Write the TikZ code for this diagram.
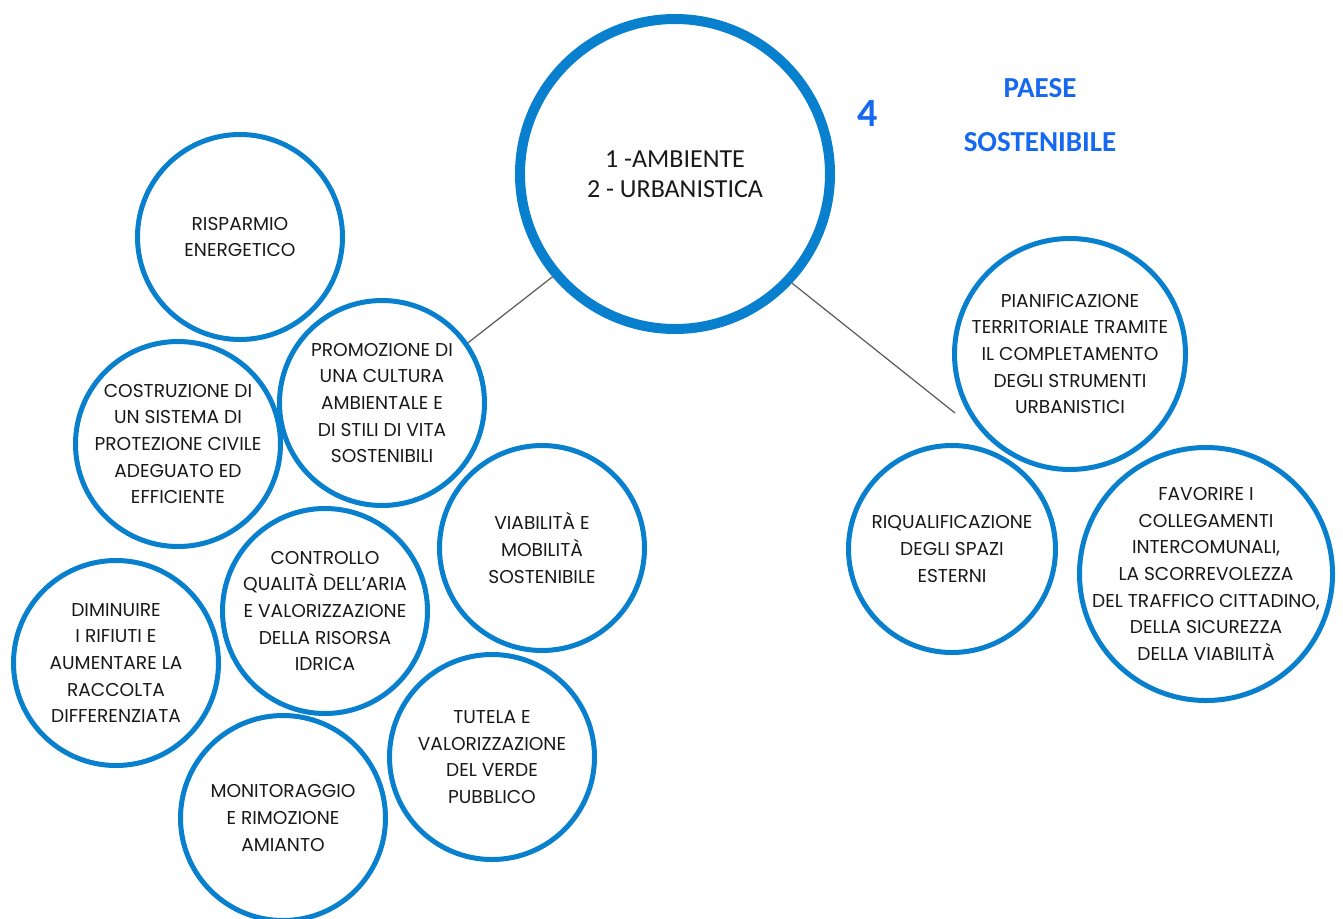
\documentclass[tikz,border=0pt]{standalone}
\usepackage{fontspec}
\setmainfont{Poppins}
\newfontfamily\calib{Carlito}
\definecolor{ringblue}{RGB}{8,128,206}
\definecolor{titleblue}{RGB}{22,104,240}
\definecolor{linkgray}{RGB}{90,90,90}
\definecolor{txt}{RGB}{25,25,25}
\begin{document}
\begin{tikzpicture}[x=1pt,y=-1pt,
  topic/.style={circle,draw=ringblue,line width=5pt,inner sep=-40pt,minimum size=205pt,
    align=center,text=txt,font=\fontsize{18.6}{26.6}\selectfont},
  hub/.style={circle,draw=ringblue,line width=10pt,inner sep=0pt,minimum size=310pt,
    align=center,text=txt,font=\calib\fontsize{26}{30}\selectfont},
  link/.style={draw=linkgray,line width=1.2pt},
  heading/.style={text=titleblue,font=\calib\bfseries\fontsize{29}{32}\selectfont}]
\useasboundingbox (0,0) rectangle (1343,918);
\fill[white] (0,0) rectangle (1343,918);
\node[hub] (main) at (675,174) {1 -AMBIENTE\\2 - URBANISTICA};
\node[heading,font=\calib\bfseries\fontsize{40}{42}\selectfont] (four) at (868,114) {4};
\node[heading] (paese) at (1040,88) {PAESE};
\node[heading] (sost) at (1040,142) {SOSTENIBILE};
\node[topic] (ris) at (240,237) {RISPARMIO\\ENERGETICO};
\node[topic] (prom) at (382,403) {PROMOZIONE DI\\UNA CULTURA\\AMBIENTALE E\\DI STILI DI VITA\\SOSTENIBILI};
\node[topic] (cost) at (178,444) {COSTRUZIONE DI\\UN SISTEMA DI\\PROTEZIONE CIVILE\\ADEGUATO ED\\EFFICIENTE};
\node[topic] (via) at (542,548) {VIABILITÀ E\\MOBILITÀ\\SOSTENIBILE};
\node[topic] (contr) at (325,611) {CONTROLLO\\QUALITÀ DELL’ARIA\\E VALORIZZAZIONE\\DELLA RISORSA\\IDRICA};
\node[topic] (dim) at (116,663) {DIMINUIRE\\I RIFIUTI E\\AUMENTARE LA\\RACCOLTA\\DIFFERENZIATA};
\node[topic] (tut) at (492,757) {TUTELA E\\VALORIZZAZIONE\\DEL VERDE\\PUBBLICO};
\node[topic] (mon) at (283,818) {MONITORAGGIO\\E RIMOZIONE\\AMIANTO};
\node[topic,minimum size=231pt] (plan) at (1070,354) {PIANIFICAZIONE\\TERRITORIALE TRAMITE\\IL COMPLETAMENTO\\DEGLI STRUMENTI\\URBANISTICI};
\node[topic,minimum size=207pt] (riq) at (952,549) {RIQUALIFICAZIONE\\DEGLI SPAZI\\ESTERNI};
\node[topic,minimum size=253pt] (fav) at (1206,574) {FAVORIRE I\\COLLEGAMENTI\\INTERCOMUNALI,\\LA SCORREVOLEZZA\\DEL TRAFFICO CITTADINO,\\DELLA SICUREZZA\\DELLA VIABILITÀ};
\coordinate (rend) at (955,413);
\draw[link] (main.220) -- (prom.35);
\draw[link] (main.-43) -- (rend);
\end{tikzpicture}
\end{document}
